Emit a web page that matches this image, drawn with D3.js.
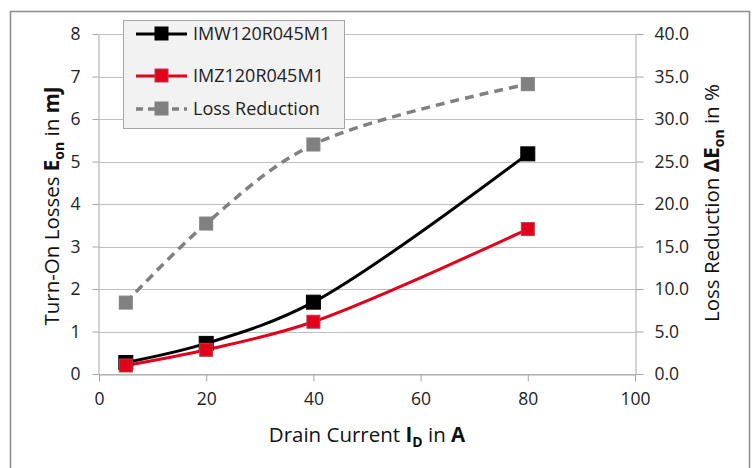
<!DOCTYPE html>
<html><head><meta charset="utf-8">
<script src="https://cdn.jsdelivr.net/npm/d3@7"></script>
<style>body{margin:0;background:#fff;}svg{display:block;font-family:"Open Sans",Lato,sans-serif;}</style>
</head><body><svg id="c" width="752" height="468"></svg>
<script>
const current = [5, 20, 40, 80];
const imw = [0.27, 0.72, 1.69, 5.18];
const imz = [0.20, 0.57, 1.23, 3.41];
const reduction = [8.4, 17.7, 27.0, 34.1];
const xTicks = [0, 20, 40, 60, 80, 100];
const yTicks = [0, 1, 2, 3, 4, 5, 6, 7, 8];
const y2Ticks = [0, 5, 10, 15, 20, 25, 30, 35, 40];
const seriesNames = ["IMW120R045M1", "IMZ120R045M1", "Loss Reduction"];

const FONT = "'Open Sans',Lato,sans-serif";
const svg = d3.select("#c");
const L = 99, R = 635, T = 34, B = 374;
const x = d3.scaleLinear().domain([0, 100]).range([L, R]);
const y = d3.scaleLinear().domain([0, 8]).range([B, T]);
const y2 = d3.scaleLinear().domain([0, 40]).range([B, T]);

svg.append("rect").attr("x", 10.5).attr("y", 11.5).attr("width", 739).attr("height", 470)
  .attr("fill", "#fff").attr("stroke", "#8c8c8c").attr("stroke-width", 1.5);

// gridlines
svg.append("g").selectAll("line").data(yTicks).join("line")
  .attr("x1", L).attr("x2", R).attr("y1", d => Math.round(y(d)) + 0.5).attr("y2", d => Math.round(y(d)) + 0.5)
  .attr("stroke", "#bfbfbf").attr("stroke-width", 1);

// axes
const gx = svg.append("g").attr("transform", `translate(0,${B + 0.5})`)
  .call(d3.axisBottom(x).tickValues(xTicks).tickSize(7).tickSizeOuter(0).tickPadding(11));
const gy = svg.append("g").attr("transform", `translate(${L - 0.5},0)`)
  .call(d3.axisLeft(y).tickValues(yTicks).tickSize(6).tickSizeOuter(0).tickPadding(12).tickFormat(d3.format("d")));
const gy2 = svg.append("g").attr("transform", `translate(${R + 0.5},0)`)
  .call(d3.axisRight(y2).tickValues(y2Ticks).tickSize(8).tickSizeOuter(0).tickPadding(11).tickFormat(d3.format(".1f")));
[gx, gy, gy2].forEach(g => {
  g.select(".domain").attr("stroke", "#a6a6a6");
  g.selectAll(".tick line").attr("stroke", "#a6a6a6");
  g.selectAll("text").attr("font-size", 17.5).attr("fill", "#222").attr("font-family", FONT);
});

// lines
const line = (ys, s) => d3.line().x((d, i) => x(current[i])).y(d => s(d)).curve(d3.curveCatmullRom.alpha(0.5));
svg.append("path").datum(reduction).attr("d", line(reduction, y2)).attr("fill", "none")
  .attr("stroke", "#808080").attr("stroke-width", 3.5).attr("stroke-dasharray", "9,6");
svg.append("path").datum(imz).attr("d", line(imz, y)).attr("fill", "none")
  .attr("stroke", "#e2001a").attr("stroke-width", 3);
svg.append("path").datum(imw).attr("d", line(imw, y)).attr("fill", "none")
  .attr("stroke", "#000").attr("stroke-width", 3);

function squares(vals, s, fill, stroke, size) {
  svg.append("g").selectAll("rect").data(vals).join("rect")
    .attr("x", (d, i) => x(current[i]) - size / 2).attr("y", d => s(d) - size / 2)
    .attr("width", size).attr("height", size).attr("fill", fill).attr("stroke", stroke).attr("stroke-width", 1);
}
squares(reduction, y2, "#808080", "#808080", 13);
squares(imw, y, "#000", "#000", 14);
squares(imz, y, "#e2001a", "#b5404c", 13);

// legend
const lg = svg.append("g");
lg.append("rect").attr("x", 123.5).attr("y", 20.5).attr("width", 221).attr("height", 108)
  .attr("fill", "#f2f2f2").attr("stroke", "#a6a6a6");
const legItems = [
  {name: seriesNames[0], color: "#000", stroke: "#000", dash: null, w: 3, yy: 34},
  {name: seriesNames[1], color: "#e2001a", stroke: "#b5404c", dash: null, w: 3, yy: 76},
  {name: seriesNames[2], color: "#808080", stroke: "#808080", dash: "7,5", w: 3.5, yy: 109}
];
legItems.forEach(it => {
  lg.append("line").attr("x1", 136).attr("x2", 187).attr("y1", it.yy).attr("y2", it.yy)
    .attr("stroke", it.color).attr("stroke-width", it.w).attr("stroke-dasharray", it.dash);
  lg.append("rect").attr("x", 155).attr("y", it.yy - 7).attr("width", 13).attr("height", 13)
    .attr("fill", it.color).attr("stroke", it.stroke);
  lg.append("text").attr("x", 193).attr("y", it.yy).attr("dy", "0.35em").attr("font-size", 18)
    .attr("fill", "#222").text(it.name);
});

// axis titles
const xt = svg.append("text").attr("x", (L + R) / 2).attr("y", 442).attr("text-anchor", "middle")
  .attr("font-size", 20.5).attr("fill", "#111");
xt.append("tspan").text("Drain Current ");
xt.append("tspan").attr("font-weight", "bold").text("I");
xt.append("tspan").attr("font-weight", "bold").attr("font-size", 14).attr("dy", 5).text("D");
xt.append("tspan").attr("dy", -5).text(" in ");
xt.append("tspan").attr("font-weight", "bold").text("A");

const yt = svg.append("text").attr("transform", `translate(59,206) rotate(-90)`).attr("text-anchor", "middle")
  .attr("font-size", 20.5).attr("fill", "#111");
yt.append("tspan").text("Turn-On Losses ");
yt.append("tspan").attr("font-weight", "bold").text("E");
yt.append("tspan").attr("font-weight", "bold").attr("font-size", 14).attr("dy", 5).text("on");
yt.append("tspan").attr("dy", -5).text(" in ");
yt.append("tspan").attr("font-weight", "bold").text("mJ");

const yt2 = svg.append("text").attr("transform", `translate(719,203) rotate(-90)`).attr("text-anchor", "middle")
  .attr("font-size", 20.5).attr("fill", "#111");
yt2.append("tspan").text("Loss Reduction ");
yt2.append("tspan").attr("font-weight", "bold").text("ΔE");
yt2.append("tspan").attr("font-weight", "bold").attr("font-size", 14).attr("dy", 5).text("on");
yt2.append("tspan").attr("dy", -5).text(" in %");
</script></body></html>
